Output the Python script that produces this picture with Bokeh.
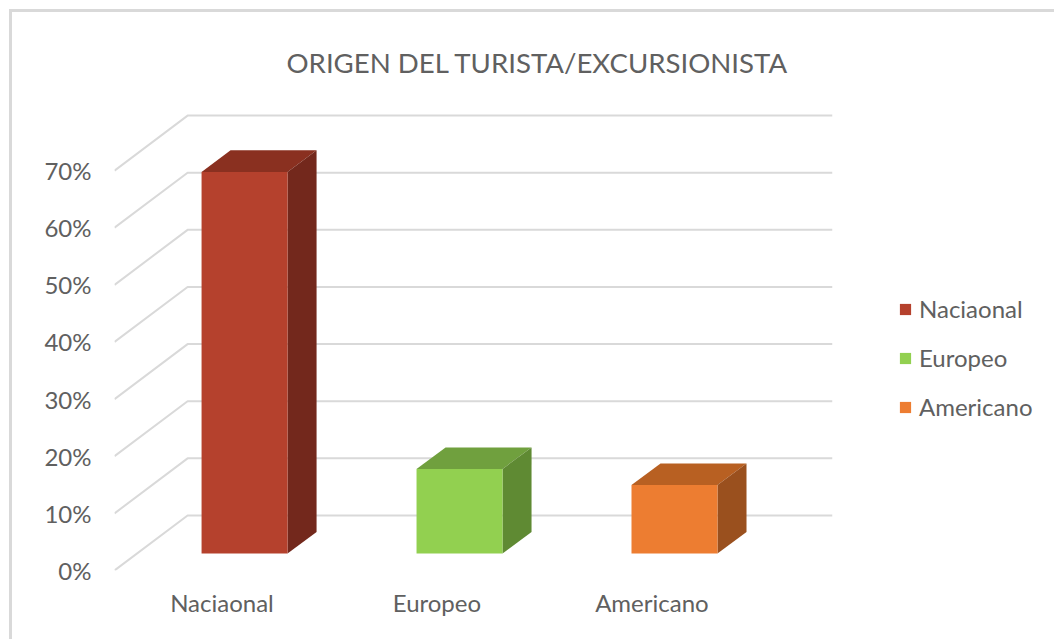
from bokeh.plotting import figure
from bokeh.embed import file_html
from bokeh.resources import INLINE
from bokeh.models import Range1d, FixedTicker, Legend, LegendItem, Title

TITLE = "ORIGEN DEL TURISTA/EXCURSIONISTA"
categories = ["Naciaonal", "Europeo", "Americano"]
values = [66.8, 14.8, 12]
front_colors = ["#B5412D", "#92D050", "#ED7D31"]
top_colors = ["#8A3020", "#70A03E", "#B86022"]
side_colors = ["#73281C", "#5F8A33", "#9A501E"]
y_ticks = [0, 10, 20, 30, 40, 50, 60, 70]

# axis geometry in data units (one category = 1 on x, percent on y)
WALL_DX, WALL_DY = 0.34, 9.63
BAR_X0, BAR_W = 0.405, 0.40
BAR_Y0 = 2.98
BAR_DX, BAR_DY = 0.135, 3.77
TEXT = "#606060"
GRID = "#D9D9D9"
FONT = "Lato"

OX, OY = 9, 9   # figure origin on the page
BORDER = 3

p = figure(width=1054 - OX - BORDER, height=639 - OY - BORDER, output_backend="svg", toolbar_location=None,
           frame_width=718, frame_height=461,
           min_border_left=114 - OX - BORDER, min_border_top=109 - OY - BORDER,
           min_border_right=100, min_border_bottom=69,
           x_range=Range1d(0, 3 + WALL_DX), y_range=Range1d(0, 80.7),
           background_fill_color="white", border_fill_color="white",
           margin=(OY, 0, 0, OX),
           styles={"border-top": f"{BORDER}px solid {GRID}", "border-left": f"{BORDER}px solid {GRID}"})
p.outline_line_color = None
p.grid.visible = False

# walls: slanted side + horizontal back line for every tick
xs, ys = [], []
for v in y_ticks:
    xs.append([0, WALL_DX, 3 + WALL_DX])
    ys.append([v, v + WALL_DY, v + WALL_DY])
p.multi_line(xs, ys, line_color=GRID, line_width=2)

# bars
items = []
for i, (c, v) in enumerate(zip(categories, values)):
    x0 = i + BAR_X0
    x1 = x0 + BAR_W
    y0 = BAR_Y0
    y1 = BAR_Y0 + v
    p.patch([x0, x1, x1 + BAR_DX, x0 + BAR_DX], [y1, y1, y1 + BAR_DY, y1 + BAR_DY],
            fill_color=top_colors[i], line_color=None)
    p.patch([x1, x1 + BAR_DX, x1 + BAR_DX, x1], [y0, y0 + BAR_DY, y1 + BAR_DY, y1],
            fill_color=side_colors[i], line_color=None)
    r = p.quad(left=[x0], right=[x1], bottom=[y0], top=[y1],
               fill_color=front_colors[i], line_color=None)
    items.append(LegendItem(label=c, renderers=[r]))

# axes
p.yaxis.ticker = FixedTicker(ticks=y_ticks)
p.yaxis.major_label_overrides = {v: f"{v}%" for v in y_ticks}
p.yaxis.axis_line_color = None
p.yaxis.major_tick_line_color = None
p.yaxis.major_tick_out = 0
p.yaxis.minor_tick_line_color = None
p.yaxis.minor_tick_out = 0
p.yaxis.major_label_standoff = 23
p.yaxis.major_label_text_font = FONT
p.yaxis.major_label_text_font_size = "24px"
p.yaxis.major_label_text_color = TEXT

p.xaxis.ticker = FixedTicker(ticks=[0.5, 1.5, 2.5])
p.xaxis.major_label_overrides = {i + 0.5: c for i, c in enumerate(categories)}
p.xaxis.axis_line_color = None
p.xaxis.major_tick_line_color = None
p.xaxis.major_tick_out = 0
p.xaxis.minor_tick_line_color = None
p.xaxis.minor_tick_out = 0
p.xaxis.major_label_standoff = 17
p.xaxis.major_label_text_font = FONT
p.xaxis.major_label_text_font_size = "24px"
p.xaxis.major_label_text_color = TEXT

# legend
legend = Legend(items=items, location=(66, 149), orientation="vertical",
                glyph_width=14, glyph_height=14, spacing=20, label_standoff=7,
                label_text_font=FONT, label_text_font_size="24px", label_text_color=TEXT,
                label_height=26, background_fill_alpha=0, border_line_color=None,
                padding=0, margin=0)
p.add_layout(legend, "right")

# title
t = Title(text=TITLE, align="left", offset=172, standoff=61,
          text_font=FONT, text_font_size="27.6px", text_font_style="normal", text_color=TEXT)
p.add_layout(t, "above")

open("out.html", "w").write(file_html(p, INLINE))
